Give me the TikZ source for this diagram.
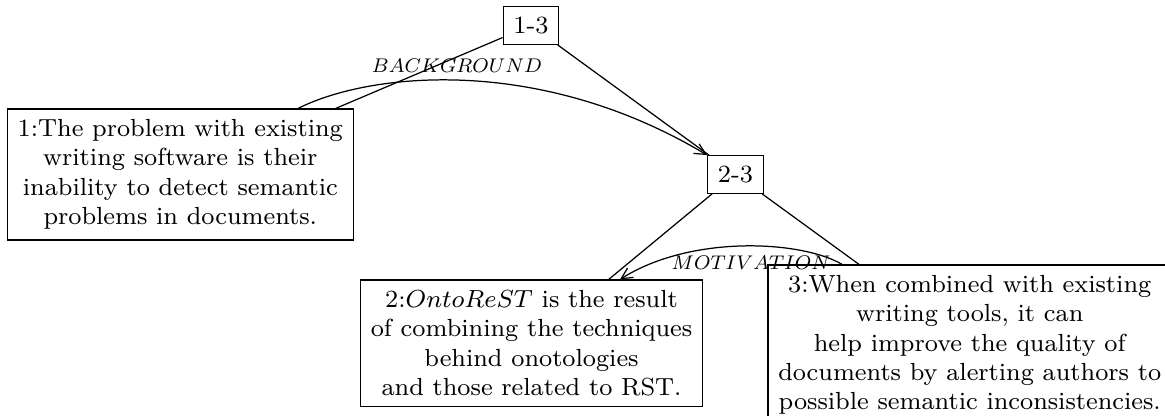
\documentclass[tikz,border=0pt]{standalone}
\usepackage{graphicx}
\usetikzlibrary{calc,arrows.meta}
\begin{document}
\begin{tikzpicture}[x=0.32321pt,y=-0.32321pt,
  box/.style={draw,align=center,font=\footnotesize,inner sep=0.3333em},
  lbl/.style={font=\footnotesize,inner sep=0pt},
  conn/.style={line width=0.4pt},
  rel/.style={-{Straight Barb[length=3.6pt,width=3.6pt]},line width=0.4pt}]
\useasboundingbox (0,0) rectangle (1165,416);
\node[box] (n13) at (531,25.5) {1-3};
\node[box] (b1) at (180.3,174.5) {1:The problem with existing\\writing software is their\\inability to detect semantic\\problems in documents.};
\node[box] (n23) at (735.5,174.5) {2-3};
\node[box] (b2) at (531.5,343.3) {2:$OntoReST$ is the result\\of combining the techniques\\behind onotologies\\and those related to RST.};
\node[box,anchor=north west] (b3) at (767.3,264.3) {3:When combined with existing\\writing tools, it can\\help improve the quality of\\documents by alerting authors to\\possible semantic inconsistencies.};
\draw[conn] (n13) -- (b1);
\draw[conn] (n13) -- (n23);
\draw[conn] (n23) -- (b2);
\draw[conn] (n23) -- (b3);
\coordinate (s1) at ($(b1.north)+(117.7,0)$);
\draw[rel] (s1) .. controls (370,72) and (540,55) .. (n23.north west);
\node[lbl] (lbg) at (457,66) {\scalebox{0.8}{$BACKGROUND$}};
\coordinate (s2) at ($(b3.north west)+(74.7,0)$);
\coordinate (e2) at ($(b2.north)+(88.5,0)$);
\draw[rel] (s2) .. controls (800,240) and (690,235) .. (e2);
\node[lbl] (lmo) at (751,263) {\scalebox{0.8}{$MOTIVATION$}};
\end{tikzpicture}
\end{document}
